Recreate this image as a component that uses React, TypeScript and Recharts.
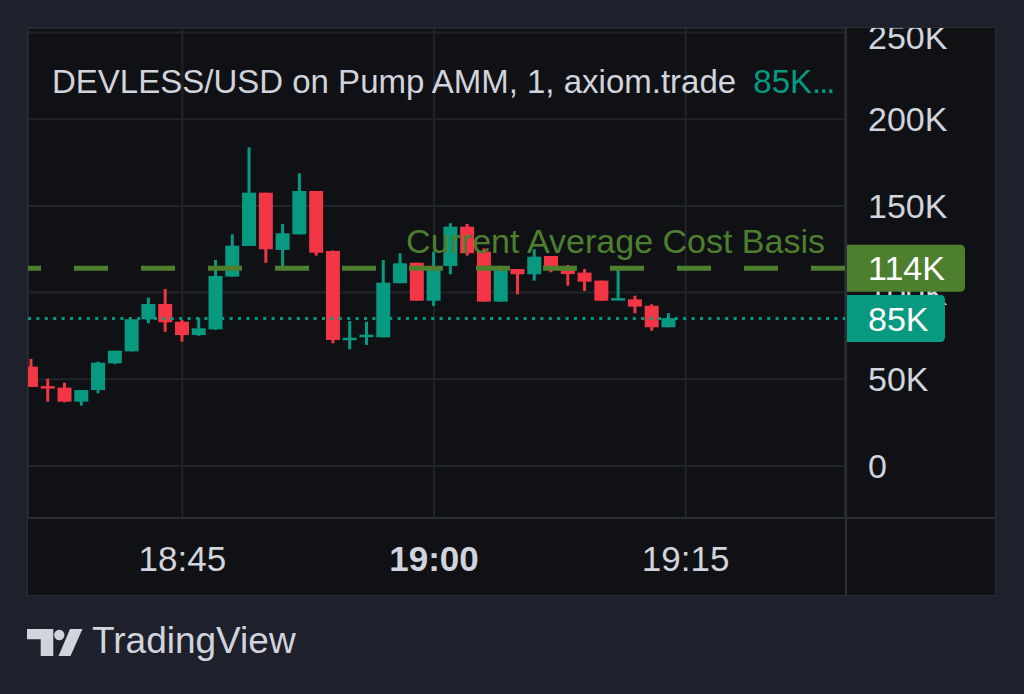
import React from 'react';
import { ComposedChart, Bar, XAxis, YAxis, CartesianGrid, ReferenceLine } from 'recharts';

// one-minute candles, prices in thousands of USD
const times = [
  '18:36', '18:37', '18:38', '18:39', '18:40', '18:41', '18:42', '18:43', '18:44', '18:45',
  '18:46', '18:47', '18:48', '18:49', '18:50', '18:51', '18:52', '18:53', '18:54', '18:55',
  '18:56', '18:57', '18:58', '18:59', '19:00', '19:01', '19:02', '19:03', '19:04', '19:05',
  '19:06', '19:07', '19:08', '19:09', '19:10', '19:11', '19:12', '19:13', '19:14',
];
const opens = [
  57.3, 45.6, 45.2, 37.1, 43.8, 59.2, 66.1, 84.6, 93.4, 83.2,
  75.5, 78.8, 109.2, 126.9, 157.6, 124.6, 133.6, 158.6, 124.0, 72.8,
  74.6, 74.2, 105.4, 117.2, 95.3, 115.3, 138.0, 123.6, 94.8, 113.6,
  110.6, 121.1, 114.9, 111.5, 106.9, 95.7, 96.1, 92.4, 80.0,
];
const highs = [
  61.7, 50.3, 48.0, 43.8, 60.2, 66.5, 84.6, 97.1, 102.1, 84.2,
  85.5, 118.8, 133.6, 183.8, 157.6, 139.6, 168.8, 158.6, 124.3, 83.6,
  83.2, 118.8, 122.7, 117.2, 123.6, 140.0, 139.6, 125.5, 115.5, 113.6,
  125.0, 121.1, 115.9, 113.6, 106.9, 113.6, 98.2, 93.3, 88.1,
];
const lows = [
  45.6, 37.1, 36.7, 34.8, 41.9, 58.7, 66.1, 82.3, 77.4, 71.7,
  75.1, 78.5, 109.2, 126.9, 117.2, 114.4, 133.6, 121.3, 70.8, 67.3,
  69.8, 74.2, 105.4, 95.3, 92.3, 110.6, 121.3, 94.8, 94.8, 99.0,
  106.9, 111.7, 104.0, 100.9, 95.3, 95.7, 88.1, 78.0, 80.0,
];
const closes = [
  45.6, 45.1, 37.1, 43.8, 59.6, 66.5, 84.6, 93.4, 82.9, 75.5,
  79.4, 109.6, 127.0, 157.6, 125.0, 134.2, 158.6, 123.0, 72.7, 73.7,
  75.4, 105.7, 116.9, 95.3, 115.3, 138.0, 122.7, 94.8, 114.0, 110.6,
  120.7, 114.4, 110.7, 106.3, 95.3, 96.5, 91.9, 80.0, 85.3,
];

const priceTicks = [0, 50, 100, 150, 200, 250];
const timeTicks = ['18:45', '19:00', '19:15'];
const boldTimeTicks = ['19:00'];
const costBasis = 114;
const lastPrice = 85;

const UP = '#089981';
const DOWN = '#f23645';
const OLIVE = '#4e7f2e';
const TEXT = '#d1d4dc';
const GRID = '#22242b';
const BORDER = '#2a2d36';
const FONT = '"Liberation Sans", Arial, sans-serif';

const W = 967;
const H = 567;
const AXIS_W = 150;
const AXIS_H = 77;
const X_DOMAIN = [1115.8, 1164.5];
const Y_DOMAIN = [-30, 252.6];

const toMin = (s: string) => {
  const [h, m] = s.split(':').map(Number);
  return h * 60 + m;
};

const candles = times.map((t, i) => ({
  t: toMin(t),
  o: opens[i],
  h: highs[i],
  l: lows[i],
  c: closes[i],
  range: [lows[i], highs[i]],
}));

const Candle = (props: any) => {
  const { x, y, width, height, payload } = props;
  const { o, h, l, c } = payload;
  const top = Math.min(y, y + height);
  const k = h > l ? Math.abs(height) / (h - l) : 0;
  const py = (v: number) => top + (h - v) * k;
  const color = c >= o ? UP : DOWN;
  const cx = x + width / 2;
  let bTop = py(Math.max(o, c));
  let bBot = py(Math.min(o, c));
  if (bBot - bTop < 2.5) {
    const mid = (bTop + bBot) / 2;
    bTop = mid - 1.25;
    bBot = mid + 1.25;
  }
  return (
    <g>
      <rect x={cx - 1.5} y={py(h)} width={3} height={py(l) - py(h)} fill={color} />
      <rect x={x} y={bTop} width={width} height={bBot - bTop} fill={color} />
    </g>
  );
};

const badgePath = (x: number, y: number, w: number, h: number, r: number) =>
  `M${x},${y} H${x + w - r} Q${x + w},${y} ${x + w},${y + r} V${y + h - r} Q${x + w},${y + h} ${x + w - r},${y + h} H${x} Z`;

// caption above the cost-basis line, sits under the candles
const Caption = ({ viewBox, text }: any) => {
  if (!viewBox) return null;
  return (
    <text x={viewBox.x + viewBox.width - 20} y={viewBox.y - 15} textAnchor="end" fill={OLIVE} fontSize={34} fontFamily={FONT}>
      {text}
    </text>
  );
};

// price tag on the axis, drawn in the overlay chart so it covers the tick labels
const PriceBadge = ({ viewBox, text, fill, w }: any) => {
  if (!viewBox) return null;
  const right = viewBox.x + viewBox.width;
  const yc = viewBox.y;
  return (
    <g>
      <path d={badgePath(right, yc - 23.5, w, 47, 5)} fill={fill} />
      <text x={right + 23} y={yc} dominantBaseline="central" fill="#ffffff" fontSize={34} fontFamily={FONT}>
        {text}
      </text>
    </g>
  );
};

const PriceTick = ({ x, y, payload }: any) => (
  <text x={x + 23} y={y} dominantBaseline="central" fill={TEXT} fontSize={34} fontFamily={FONT}>
    {payload.value === 0 ? '0' : `${payload.value}K`}
  </text>
);

const TimeTick = ({ x, y, payload }: any) => {
  const label = `${Math.floor(payload.value / 60)}:${String(payload.value % 60).padStart(2, '0')}`;
  return (
    <text
      x={x}
      y={y + 40}
      textAnchor="middle"
      dominantBaseline="central"
      fill={TEXT}
      fontSize={35}
      fontWeight={boldTimeTicks.includes(label) ? 700 : 400}
      fontFamily={FONT}
    >
      {label}
    </text>
  );
};

const Logo = () => (
  <svg width={58} height={30} style={{ position: 'absolute', left: 27, top: 628 }}>
    <path d="M0,1 H26.3 V28 H13.7 V11.3 H0 Z" fill={TEXT} />
    <circle cx={32.3} cy={7} r={5.2} fill={TEXT} />
    <path d="M43,1 H55.5 L43.5,28 H31.5 Z" fill={TEXT} />
  </svg>
);

export default function App() {
  return (
    <div style={{ position: 'fixed', left: 0, top: 0, width: 1024, height: 694, background: '#1e212b', fontFamily: FONT }}>
      <div
        style={{
          position: 'absolute', left: 27, top: 27, width: W + 2, height: H + 2,
          border: `1px solid ${BORDER}`, boxSizing: 'border-box', background: '#101115', overflow: 'hidden',
        }}
      >
        <div style={{ position: 'absolute', left: 0, top: 0 }}>
          <ComposedChart width={W} height={H} data={candles} margin={{ top: 0, right: 0, bottom: 0, left: 0 }}>
            <CartesianGrid stroke={GRID} strokeWidth={2} />
            <XAxis
              dataKey="t"
              type="number"
              domain={X_DOMAIN}
              allowDataOverflow
              ticks={timeTicks.map(toMin)}
              height={AXIS_H}
              axisLine={false}
              tickLine={false}
              tickSize={0}
              tickMargin={0}
              tick={<TimeTick />}
            />
            <YAxis
              orientation="right"
              type="number"
              domain={Y_DOMAIN}
              allowDataOverflow
              ticks={priceTicks}
              width={AXIS_W}
              axisLine={false}
              tickLine={false}
              tickSize={0}
              tickMargin={0}
              tick={<PriceTick />}
            />
            <ReferenceLine
              y={costBasis}
              stroke={OLIVE}
              strokeWidth={5}
              strokeDasharray="34 33"
              label={<Caption text="Current Average Cost Basis" />}
            />
            <Bar dataKey="range" barSize={14} shape={<Candle />} isAnimationActive={false} />
          </ComposedChart>
        </div>
        <div style={{ position: 'absolute', left: 0, top: 0 }}>
          <ComposedChart width={W} height={H} data={candles} margin={{ top: 0, right: AXIS_W, bottom: AXIS_H, left: 0 }}>
            <XAxis dataKey="t" type="number" domain={X_DOMAIN} allowDataOverflow hide />
            <YAxis type="number" domain={Y_DOMAIN} allowDataOverflow hide />
            <ReferenceLine
              y={costBasis}
              stroke="none"
              label={<PriceBadge text={`${costBasis}K`} fill={OLIVE} w={120} />}
            />
            <ReferenceLine
              y={lastPrice}
              stroke={UP}
              strokeWidth={3}
              strokeDasharray="3 5.4"
              label={<PriceBadge text={`${lastPrice}K`} fill={UP} w={100} />}
            />
          </ComposedChart>
        </div>
        <div style={{ position: 'absolute', left: W - AXIS_W, top: 0, width: 2, height: H, background: BORDER }} />
        <div style={{ position: 'absolute', left: 0, top: H - AXIS_H - 1, width: W, height: 2, background: BORDER }} />
        <div
          style={{
            position: 'absolute', left: 24, top: 34, height: 40, lineHeight: '40px',
            fontSize: 33, color: TEXT, whiteSpace: 'nowrap',
          }}
        >
          DEVLESS/USD on Pump AMM, 1, axiom.trade{' '}
          <span style={{ color: UP, marginLeft: 8 }}>
            85K<span style={{ letterSpacing: -2 }}>...</span>
          </span>
        </div>
      </div>
      <Logo />
      <div style={{ position: 'absolute', left: 92, top: 621, lineHeight: '40px', fontSize: 37, color: TEXT }}>
        TradingView
      </div>
    </div>
  );
}
